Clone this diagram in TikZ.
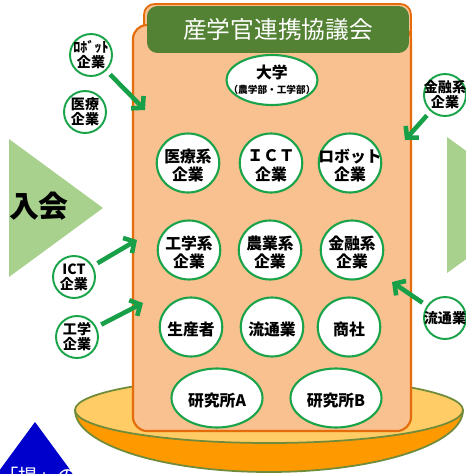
\documentclass[tikz,border=0pt]{standalone}
\usepackage{fontspec}
\setmainfont{Noto Sans CJK JP}
\usetikzlibrary{shapes.geometric, arrows.meta}

\definecolor{towerfill}{RGB}{249,192,144}
\definecolor{towerline}{RGB}{228,108,10}
\definecolor{headgreen}{RGB}{84,130,53}
\definecolor{ringgreen}{RGB}{26,164,74}
\definecolor{arrowgreen}{RGB}{24,160,72}
\definecolor{rimfill}{RGB}{255,204,102}
\definecolor{bowlfill}{RGB}{255,153,0}
\definecolor{plateline}{RGB}{112,140,58}
\definecolor{trigreen}{RGB}{169,209,142}
\definecolor{triblue}{RGB}{0,0,204}

\begin{document}
\begin{tikzpicture}[x=0.02cm, y=-0.02cm, every label/.style={align=center, inner sep=0pt, text=black}]
	% Define styles
	\tikzstyle{member} = [ellipse, draw=ringgreen, line width=1.2pt, fill=white, inner sep=0pt, minimum width=1.25cm, minimum height=1.18cm]
	\tikzstyle{guest} = [circle, draw=ringgreen, line width=1.1pt, fill=white, inner sep=0pt, minimum size=0.84cm]
	\tikzstyle{mtext} = [font=\bfseries\fontsize{9}{10.5}\selectfont, yshift=-1.5pt]
	\tikzstyle{gtext} = [font=\bfseries\fontsize{8}{8.5}\selectfont]
	\tikzstyle{joinarrow} = [draw=arrowgreen, line width=2.6pt, -{Straight Barb[length=4.5pt, width=10pt]}, shorten <=3pt]

	\useasboundingbox (0,0) rectangle (466,474);
	\clip (0,0) rectangle (466,474);

	% Side marks
	\fill[trigreen] (9,139) -- (9,277) -- (103,208) -- cycle;
	\fill[trigreen] (447,137) -- (447,273) -- (541,205) -- cycle;
	\node[font=\bfseries\fontsize{17}{17}\selectfont] (nyukai) at (39,206) {入会};
	\fill[triblue] (35,422) -- (107,520) -- (-37,520) -- cycle;
	\node[text=white, font=\fontsize{11}{11}\selectfont] (teian) at (38,476) {「提」の};

	% Plate
	\draw[draw=plateline, line width=1pt, fill=bowlfill] (75,410) arc[start angle=180, end angle=0, x radius=194, y radius=62] -- cycle;
	\draw[draw=plateline, line width=1pt, fill=rimfill] (269,410) ellipse [x radius=194, y radius=33];

	% Council box
	\draw[draw=towerline, line width=1pt, fill=towerfill, rounded corners=6pt] (144,4) rectangle (411,50);
	\draw[draw=towerline, line width=1.2pt, fill=towerfill, rounded corners=8pt] (133,25) rectangle (411,431);
	\node[fill=headgreen, rounded corners=6pt, minimum width=5.24cm, minimum height=0.94cm, text=white, font=\fontsize{13.5}{14}\selectfont] (title) at (278,29.5) {産学官連携協議会};

	% Members
	\node[member, minimum width=1.82cm, minimum height=1.0cm, label={[font=\bfseries\fontsize{9}{8.5}\selectfont]center:大学\\{\fontsize{5.5}{6}\selectfont（農学部・工学部）}}] (daigaku) at (272,80) {};
	\node[member, label={[mtext]center:医療系\\企業}] (iryo) at (188,163) {};
	\node[member, label={[mtext]center:ＩＣＴ\\企業}] (ict) at (271,163) {};
	\node[member, label={[mtext]center:ロボット\\企業}] (robot) at (350,163) {};
	\node[member, label={[mtext]center:工学系\\企業}] (kogaku) at (189,250) {};
	\node[member, label={[mtext]center:農業系\\企業}] (nogyo) at (270,250) {};
	\node[member, label={[mtext]center:金融系\\企業}] (kinyu) at (352,250) {};
	\node[member, label={[mtext]center:生産者}] (seisan) at (191,327) {};
	\node[member, label={[mtext]center:流通業}] (ryutsu) at (272,327) {};
	\node[member, label={[mtext]center:商社}] (shosha) at (349,327) {};
	\node[member, minimum width=1.82cm, label={[mtext]center:研究所A}] (kenA) at (217,398) {};
	\node[member, minimum width=1.82cm, label={[mtext]center:研究所B}] (kenB) at (336,398) {};

	% Newcomers
	\node[guest, label={[gtext]center:ﾛﾎﾞｯﾄ\\企業}] (grobot) at (91,55) {};
	\node[guest, label={[gtext]center:医療\\企業}] (giryo) at (85,112) {};
	\node[guest, label={[gtext]center:ICT\\企業}] (gict) at (74,277) {};
	\node[guest, label={[gtext]center:工学\\企業}] (gkogaku) at (77,337) {};
	\node[guest, label={[gtext]center:金融系\\企業}] (gkinyu) at (445,95) {};
	\node[guest, label={[gtext]center:流通業}] (gryutsu) at (445,318) {};

	% Arrows
	\coordinate (probot) at (145,110);
	\coordinate (pict) at (137,240);
	\coordinate (pkogaku) at (143,303);
	\coordinate (pkinyu) at (405,140);
	\coordinate (pryutsu) at (392,282);
	\draw[joinarrow] (grobot) -- (probot);
	\draw[joinarrow] (gict) -- (pict);
	\draw[joinarrow] (gkogaku) -- (pkogaku);
	\draw[joinarrow] (gkinyu) -- (pkinyu);
	\draw[joinarrow] (gryutsu) -- (pryutsu);
\end{tikzpicture}
\end{document}
